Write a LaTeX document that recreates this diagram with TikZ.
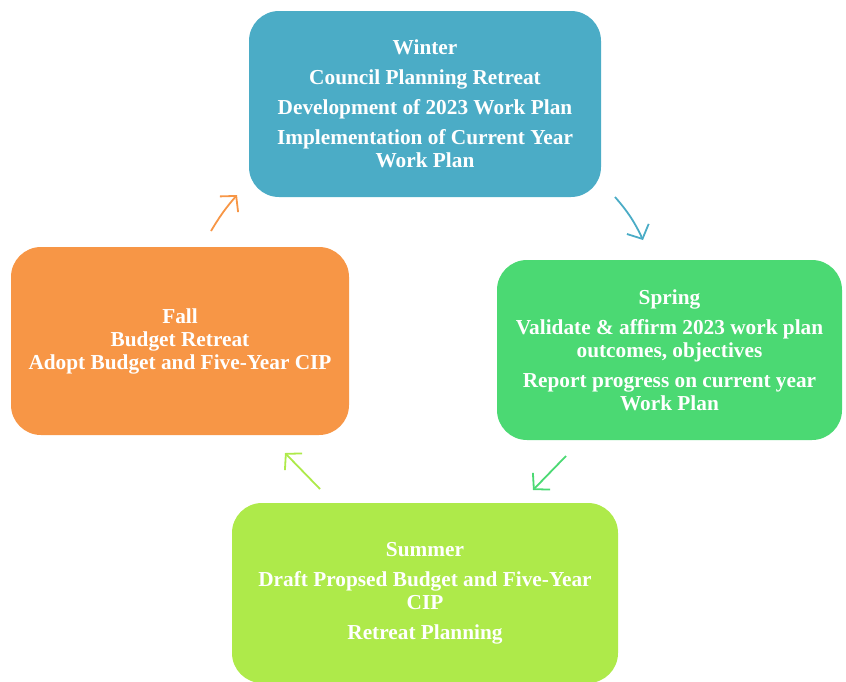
\documentclass[tikz,border=0pt]{standalone}
\usepackage{fontspec}
\setmainfont{Liberation Serif}
\usetikzlibrary{arrows.meta}
\definecolor{winterc}{HTML}{4BACC6}
\definecolor{springc}{HTML}{4BD973}
\definecolor{summerc}{HTML}{AEEA4A}
\definecolor{fallc}{HTML}{F79646}
\tikzset{
  season/.style={rounded corners=30pt, text=white, align=center,
    font=\fontsize{21.3pt}{23pt}\selectfont\bfseries, inner sep=0pt},
  cyc/.style={line width=1.8pt, -{Straight Barb[length=11pt,width=24pt,line width=1.8pt]}}
}
\begin{document}
\begin{tikzpicture}[x=1pt,y=-1pt]
\useasboundingbox (0,0) rectangle (846,681);
\node[season, fill=winterc, minimum width=352pt, minimum height=186pt] (winter) at (425,104)
  {Winter\\[7pt]Council Planning Retreat\\[7pt]Development of 2023 Work Plan\\[7pt]Implementation of Current Year\\Work Plan};
\node[season, fill=springc, minimum width=345pt, minimum height=180pt] (spring) at (669.5,350)
  {Spring\\[7pt]Validate \& affirm 2023 work plan\\outcomes, objectives\\[7pt]Report progress on current year\\Work Plan};
\node[season, fill=summerc, minimum width=386pt, minimum height=180pt] (summer) at (425,593)
  {Summer\\[7pt]Draft Propsed Budget and Five-Year\\CIP\\[7pt]Retreat Planning};
\node[season, fill=fallc, minimum width=338pt, minimum height=188pt] (fall) at (180,341)
  {Fall\\Budget Retreat\\Adopt Budget and Five-Year CIP};
\coordinate (a1s) at (615,197); \coordinate (a1e) at (643,240);
\coordinate (a2s) at (566,456); \coordinate (a2e) at (533,490);
\coordinate (a3s) at (320,489); \coordinate (a3e) at (285,453);
\coordinate (a4s) at (211,231); \coordinate (a4e) at (237,195);
\draw[cyc, winterc] (a1s) to[bend left=8] (a1e);
\draw[cyc, springc] (a2s) -- (a2e);
\draw[cyc, summerc] (a3s) -- (a3e);
\draw[cyc, fallc] (a4s) to[bend left=5] (a4e);
\end{tikzpicture}
\end{document}
